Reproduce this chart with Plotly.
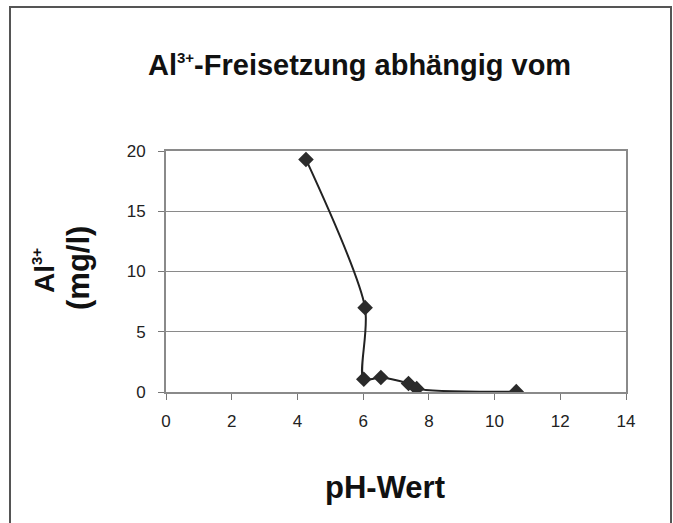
import plotly.graph_objects as go

ph_values = [4.26, 6.06, 6.02, 6.54, 7.38, 7.63, 10.66]
al_values = [19.3, 7.0, 1.06, 1.2, 0.7, 0.28, 0.03]
x_ticks = [0, 2, 4, 6, 8, 10, 12, 14]
y_ticks = [0, 5, 10, 15, 20]

W, H = 673, 523
L, R, T, B = 166, 47, 151, 131
pw, ph = W - L - R, H - T - B

def px(x):
    return (x - L) / pw

def py(y):
    return (H - B - y) / ph

FONT = "Liberation Sans, Arial, sans-serif"
SUP = "<sup><span style='font-size:15px'>3+</span></sup>"

fig = go.Figure()
fig.add_trace(go.Scatter(
    x=ph_values, y=al_values, mode="lines+markers",
    line=dict(color="#222222", width=2, shape="spline", smoothing=0.8),
    marker=dict(symbol="diamond", size=12, color="#2b2b2b"),
    showlegend=False,
))

axis_common = dict(
    showline=True, linecolor="#8a8a8a", linewidth=2, mirror=True,
    ticks="outside", ticklen=6, tickcolor="#777777", tickwidth=1,
    tickfont=dict(family=FONT, size=17, color="#222222"),
    zeroline=False,
)
fig.update_xaxes(range=[0, 14], tickvals=x_ticks, showgrid=False,
                 ticklabelstandoff=7, **axis_common)
fig.update_yaxes(range=[0, 20], tickvals=y_ticks, showgrid=True,
                 gridcolor="#8a8a8a", gridwidth=1, ticklabelstandoff=9,
                 **axis_common)

fig.add_annotation(xref="paper", yref="paper", x=px(359), y=py(65),
                   xanchor="center", yanchor="middle",
                   text="<b>Al" + SUP + "-Freisetzung abhängig vom</b>",
                   showarrow=False, font=dict(family=FONT, size=29, color="#111111"))
fig.add_annotation(xref="paper", yref="paper", x=px(385), y=py(487),
                   xanchor="center", yanchor="middle",
                   text="<b>pH-Wert</b>", showarrow=False,
                   font=dict(family=FONT, size=31, color="#111111"))
fig.add_annotation(xref="paper", yref="paper", x=px(44), y=py(270),
                   xanchor="center", yanchor="middle",
                   text="<b>Al" + SUP + "</b>", textangle=-90,
                   showarrow=False,
                   font=dict(family=FONT, size=28, color="#111111"))
fig.add_annotation(xref="paper", yref="paper", x=px(78), y=py(268),
                   xanchor="center", yanchor="middle",
                   text="<b>(mg/l)</b>", textangle=-90,
                   showarrow=False,
                   font=dict(family=FONT, size=31, color="#111111"))

fig.add_shape(type="rect", xref="paper", yref="paper",
              x0=px(10), x1=px(671), y0=py(560), y1=py(7),
              line=dict(color="#555555", width=2), layer="below")

fig.update_layout(
    width=W, height=H,
    margin=dict(l=L, r=R, t=T, b=B),
    paper_bgcolor="white", plot_bgcolor="white",
)

fig.write_html("out.html", config={"displayModeBar": False},
               post_script="document.body.style.margin='0';")
